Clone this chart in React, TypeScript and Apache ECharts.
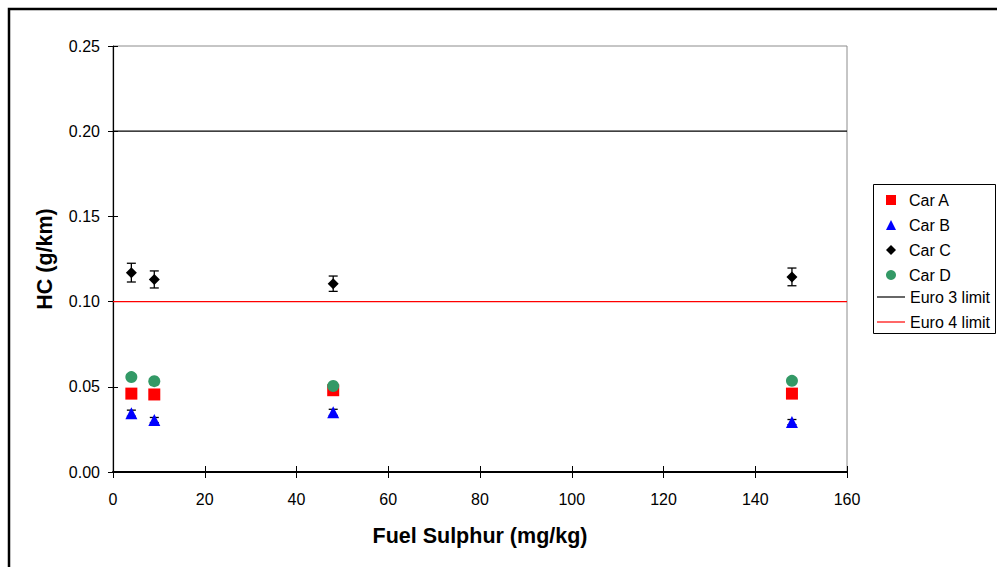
import React, { useEffect, useRef } from "react";
import * as echarts from "echarts";

// Fuel sulphur levels tested (mg/kg)
const sulphur = [4, 9, 48, 148];

// HC emissions per car (g/km)
const carA = [0.046, 0.0455, 0.048, 0.046];
const carB = [0.0345, 0.0305, 0.035, 0.0293];
const carC = [0.117, 0.113, 0.1105, 0.1145];
const carD = [0.0557, 0.0533, 0.0505, 0.0535];

// Half-widths of the error bars (g/km)
const carBErr = [0.0018, 0.0015, 0.0018, 0.0015];
const carCErr = [0.0055, 0.005, 0.0045, 0.0052];

// Regulatory limits (g/km)
const euro3Limit = 0.2;
const euro4Limit = 0.1;

const xMin = 0;
const xMax = 160;
const xStep = 20;
const yMin = 0;
const yMax = 0.25;
const yStep = 0.05;

const FONT = "'Liberation Sans', Arial, sans-serif";
const LINE_ICON = "path://M0,0H28V1.2H0Z";

const pairs = (ys: number[]) => sulphur.map((x, i) => [x, ys[i]]);
const bars = (ys: number[], err: number[]) =>
  sulphur.map((x, i) => [x, ys[i] - err[i], ys[i] + err[i]]);

function errorBarRender(params: any, api: any) {
  const x = api.value(0);
  const lo = api.coord([x, api.value(1)]);
  const hi = api.coord([x, api.value(2)]);
  const cap = 4.5;
  const style = { stroke: "#000000", lineWidth: 1.3 };
  return {
    type: "group",
    children: [
      { type: "line", shape: { x1: lo[0], y1: lo[1], x2: hi[0], y2: hi[1] }, style },
      { type: "line", shape: { x1: lo[0] - cap, y1: lo[1], x2: lo[0] + cap, y2: lo[1] }, style },
      { type: "line", shape: { x1: hi[0] - cap, y1: hi[1], x2: hi[0] + cap, y2: hi[1] }, style },
    ],
  };
}

export default function App() {
  const ref = useRef<HTMLDivElement>(null);

  useEffect(() => {
    document.body.style.margin = "0";
    if (!ref.current) return;
    const chart = echarts.init(ref.current, null, { renderer: "svg" });

    chart.setOption({
      animation: false,
      backgroundColor: "#ffffff",
      textStyle: { fontFamily: FONT },
      grid: {
        left: 113,
        right: 150,
        top: 46,
        bottom: 95,
        show: true,
        borderColor: "#8c8c8c",
        borderWidth: 1,
        backgroundColor: "transparent",
      },
      xAxis: [
        {
          type: "value",
          position: "bottom",
          min: xMin,
          max: xMax,
          interval: xStep,
          splitLine: { show: false },
          axisLine: { onZero: false, lineStyle: { color: "#000000", width: 2 } },
          axisTick: { show: true, length: 6, lineStyle: { color: "#000000", width: 1 } },
          axisLabel: { color: "#000000", fontSize: 16, margin: 19, fontFamily: FONT },
          name: "Fuel Sulphur (mg/kg)",
          nameLocation: "middle",
          nameGap: 53,
          nameTextStyle: {
            color: "#000000",
            fontSize: 21.5,
            fontWeight: "bold",
            fontFamily: FONT,
            verticalAlign: "top",
          },
        },
        {
          type: "value",
          position: "bottom",
          min: xMin,
          max: xMax,
          interval: xStep,
          splitLine: { show: false },
          axisLine: { show: false, onZero: false },
          axisTick: { show: true, inside: true, length: 6, lineStyle: { color: "#000000", width: 1 } },
          axisLabel: { show: false },
        },
      ],
      yAxis: [
        {
          type: "value",
          position: "left",
          min: yMin,
          max: yMax,
          interval: yStep,
          splitLine: { show: false },
          axisLine: { show: true, onZero: false, lineStyle: { color: "#000000", width: 1.2 } },
          axisTick: { show: true, length: 5, lineStyle: { color: "#000000", width: 1 } },
          axisLabel: {
            color: "#000000",
            fontSize: 16,
            margin: 13,
            fontFamily: FONT,
            formatter: (v: number) => v.toFixed(2),
          },
          name: "HC (g/km)",
          nameLocation: "middle",
          nameGap: 57,
          nameTextStyle: {
            color: "#000000",
            fontSize: 21.5,
            fontWeight: "bold",
            fontFamily: FONT,
          },
        },
        {
          type: "value",
          position: "left",
          min: yMin,
          max: yMax,
          interval: yStep,
          splitLine: { show: false },
          axisLine: { show: false, onZero: false },
          axisTick: { show: true, inside: true, length: 5, lineStyle: { color: "#000000", width: 1 } },
          axisLabel: { show: false },
        },
      ],
      legend: [
        {
          orient: "vertical",
          left: 886,
          top: 192,
          padding: 0,
          itemWidth: 10,
          itemHeight: 10,
          itemGap: 9,
          data: ["Car A", "Car B", "Car C", "Car D"],
          textStyle: {
            color: "#000000",
            fontSize: 16,
            lineHeight: 16,
            fontFamily: FONT,
            padding: [0, 0, 0, 8],
          },
        },
        {
          orient: "vertical",
          left: 877,
          top: 289,
          padding: 0,
          itemWidth: 28,
          itemHeight: 10,
          itemGap: 9,
          data: [
            { name: "Euro 3 limit", icon: LINE_ICON },
            { name: "Euro 4 limit", icon: LINE_ICON },
          ],
          textStyle: { color: "#000000", fontSize: 16, lineHeight: 16, fontFamily: FONT },
        },
      ],
      graphic: [
        {
          type: "rect",
          z: -1,
          shape: { x: 873.5, y: 184.5, width: 122, height: 149 },
          style: { fill: "#ffffff", stroke: "#000000", lineWidth: 1 },
        },
        {
          type: "rect",
          z: 100,
          shape: { x: 9, y: 9, width: 1200, height: 800 },
          style: { fill: "none", stroke: "#000000", lineWidth: 2.5 },
        },
      ],
      series: [
        {
          name: "Euro 3 limit",
          type: "line",
          data: [
            [xMin, euro3Limit],
            [xMax, euro3Limit],
          ],
          symbol: "none",
          silent: true,
          itemStyle: { color: "#000000" },
          lineStyle: { color: "#000000", width: 1.2 },
          z: 1,
        },
        {
          name: "Euro 4 limit",
          type: "line",
          data: [
            [xMin, euro4Limit],
            [xMax, euro4Limit],
          ],
          symbol: "none",
          silent: true,
          itemStyle: { color: "#ff0000" },
          lineStyle: { color: "#ff0000", width: 1.3 },
          z: 1,
        },
        {
          type: "custom",
          renderItem: errorBarRender,
          data: bars(carB, carBErr),
          encode: { x: 0, y: [1, 2] },
          silent: true,
          z: 2,
        },
        {
          type: "custom",
          renderItem: errorBarRender,
          data: bars(carC, carCErr),
          encode: { x: 0, y: [1, 2] },
          silent: true,
          z: 2,
        },
        {
          name: "Car A",
          type: "scatter",
          data: pairs(carA),
          symbol: "rect",
          symbolSize: 12,
          itemStyle: { color: "#ff0000", opacity: 1 },
          z: 3,
        },
        {
          name: "Car B",
          type: "scatter",
          data: pairs(carB),
          symbol: "triangle",
          symbolSize: 12,
          itemStyle: { color: "#0000ff", opacity: 1 },
          z: 3,
        },
        {
          name: "Car C",
          type: "scatter",
          data: pairs(carC),
          symbol: "diamond",
          symbolSize: 11,
          itemStyle: { color: "#000000", opacity: 1 },
          z: 3,
        },
        {
          name: "Car D",
          type: "scatter",
          data: pairs(carD),
          symbol: "circle",
          symbolSize: 12,
          itemStyle: { color: "#339966", opacity: 1 },
          z: 3,
        },
      ],
    });

    return () => chart.dispose();
  }, []);

  return <div ref={ref} style={{ width: 997, height: 567 }} />;
}
